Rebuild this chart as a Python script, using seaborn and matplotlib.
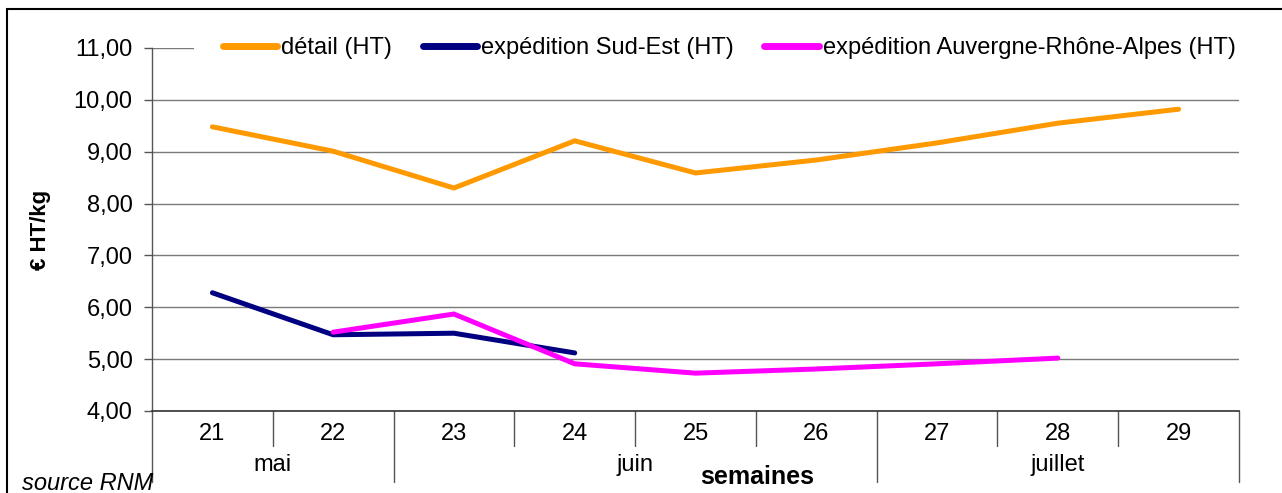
import matplotlib
matplotlib.use("Agg")
import matplotlib.pyplot as plt
import matplotlib.transforms as mtransforms
from matplotlib.patches import Rectangle
import pandas as pd
import seaborn as sns

# Weekly prices (€ HT/kg)
weeks = ["21", "22", "23", "24", "25", "26", "27", "28", "29"]
months = ["mai", "mai", "juin", "juin", "juin", "juin", "juillet", "juillet", "juillet"]
detail = [9.48, 9.01, 8.30, 9.21, 8.59, 8.84, 9.17, 9.55, 9.82]
sud_est = [6.28, 5.47, 5.50, 5.12, None, None, None, None, None]
aura = [None, 5.52, 5.87, 4.91, 4.73, 4.81, 4.91, 5.02, None]
y_ticks = [4, 5, 6, 7, 8, 9, 10, 11]

series_names = ["détail (HT)", "expédition Sud-Est (HT)", "expédition Auvergne-Rhône-Alpes (HT)"]
series_values = [detail, sud_est, aura]
palette = {series_names[0]: "#FF9900", series_names[1]: "#000080", series_names[2]: "#FF00FF"}

rows = []
for name, vals in zip(series_names, series_values):
    for i, v in enumerate(vals):
        if v is not None:
            rows.append({"pos": i, "prix": v, "série": name})
df = pd.DataFrame(rows)

sns.set_theme(style="white")
plt.rcParams["font.family"] = ["Liberation Sans", "DejaVu Sans"]
for key in ["text.color", "axes.labelcolor", "xtick.color", "ytick.color"]:
    plt.rcParams[key] = "black"

FS = 17

fig = plt.figure(figsize=(12.82, 4.93), dpi=100)
ax = fig.add_axes([152 / 1282, 1 - 411 / 493, 1087 / 1282, 363 / 493])

sns.lineplot(data=df, x="pos", y="prix", hue="série", hue_order=series_names,
             palette=palette, linewidth=3.6, ax=ax, estimator=None, sort=True,
             solid_capstyle="round", solid_joinstyle="miter")

n = len(weeks)
ax.set_xlim(-0.5, n - 0.5)
ax.set_ylim(y_ticks[0], y_ticks[-1])
ax.set_yticks(y_ticks)
ax.set_yticklabels([f"{v:.2f}".replace(".", ",") for v in y_ticks], fontsize=FS)
ax.tick_params(axis="y", direction="out", length=6, width=1, color="#555555", pad=8, left=True)
ax.grid(axis="y", color="#7a7a7a", linewidth=1)
ax.set_axisbelow(True)

ax.set_xticks(range(n))
ax.set_xticklabels(weeks, fontsize=FS)
ax.tick_params(axis="x", length=0, pad=9)

for side in ["top", "right"]:
    ax.spines[side].set_visible(False)
ax.spines["left"].set_color("#555555")
ax.spines["bottom"].set_color("#333333")
ax.spines["left"].set_linewidth(1)
ax.spines["bottom"].set_linewidth(1.2)

ax.set_xlabel("")
ax.set_ylabel("€ HT/kg", fontsize=16, fontweight="bold", labelpad=16)

# Category boundaries below the axis: short for weeks, long between months
trans = mtransforms.blended_transform_factory(ax.transData, ax.transAxes)
for i in range(n + 1):
    bx = i - 0.5
    month_edge = i == 0 or i == n or months[i] != months[i - 1]
    y_end = -0.196 if month_edge else -0.097
    ax.plot([bx, bx], [0, y_end], transform=trans, color="#555555",
            linewidth=1, clip_on=False)

# Month labels centred on their group of weeks
start = 0
for i in range(1, n + 1):
    if i == n or months[i] != months[start]:
        center = (start + i - 1) / 2
        ax.text(center, -0.149, months[start], transform=trans, ha="center",
                va="center", fontsize=FS)
        start = i

fig.text(757 / 1282, 1 - 477 / 493, "semaines", ha="center", va="center",
         fontsize=18, fontweight="bold")
fig.text(22 / 1282, 1 - 490 / 493, "source RNM", ha="left", va="baseline",
         fontsize=17, fontstyle="italic")

leg = ax.legend(loc="center", bbox_to_anchor=(0.531, 1.0), ncol=3, frameon=True,
                fontsize=FS, handlelength=2.3, handletextpad=0.17,
                columnspacing=1.3, borderpad=0.4, borderaxespad=0)
frame = leg.get_frame()
frame.set_facecolor("white")
frame.set_edgecolor("none")
frame.set_alpha(1)
frame.set_boxstyle("square", pad=0.8)
for line in leg.get_lines():
    line.set_linewidth(5)

# Outer chart frame
fig.patches.append(Rectangle((7 / 1282, -1), 2, 1 - 9 / 493 + 1,
                             transform=fig.transFigure, fill=False,
                             edgecolor="black", linewidth=1.5))

fig.savefig("out.png", dpi=100)
